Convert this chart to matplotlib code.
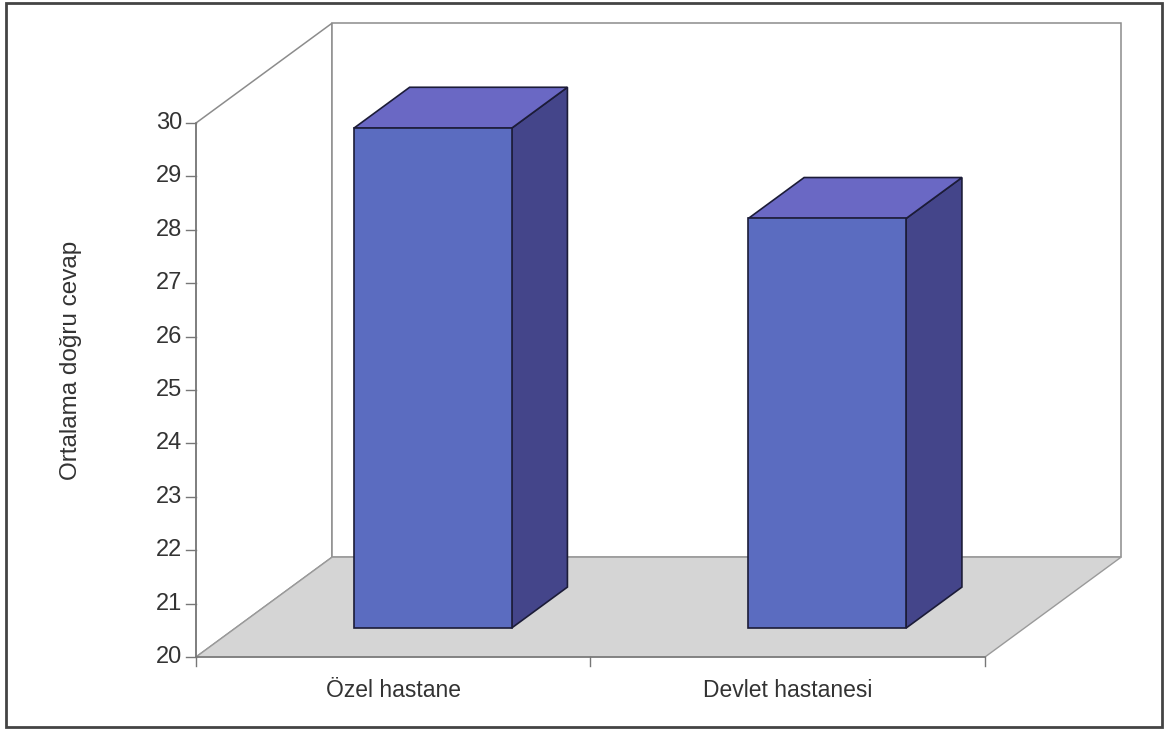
import numpy as np
import matplotlib.pyplot as plt
from matplotlib.patches import Polygon, Rectangle

plt.rcParams['font.family'] = ['Liberation Sans', 'DejaVu Sans']

# data
categories = ["Özel hastane", "Devlet hastanesi"]
values = [29.36, 27.67]
y_ticks = list(range(20, 31))
y_label = "Ortalama doğru cevap"

# 3d look: depth offset of the floor/walls (in x and value units)
DX = 0.345
DY = 1.87
Y0, Y1 = 20, 30
BAR_W = 0.40
D0, D1 = 0.29, 0.70  # bar front / back depth fraction

FRONT = '#5b6cc0'
TOP = '#6a68c4'
SIDE = '#44458a'
EDGE = '#1c1c38'
WALL_EDGE = '#8c8c8c'
TXT = '#333333'


def proj(x, v, d):
    return (x + d * DX, v + d * DY)


fig = plt.figure(figsize=(11.7, 7.31), dpi=100)
ax = fig.add_axes([0, 0, 1, 1])
# pixel layout -> data limits
ax.set_xlim((0 - 196) / 394.5, (1170 - 196) / 394.5)
ax.set_ylim(20 - (731 - 657) / 53.4, 20 + 657 / 53.4)
ax.axis('off')

n = len(categories)

# walls
left_wall = [proj(0, Y0, 0), proj(0, Y0, 1), proj(0, Y1, 1), proj(0, Y1, 0)]
ax.add_patch(Polygon(left_wall, closed=True, facecolor='white',
                     edgecolor=WALL_EDGE, lw=1.1, zorder=1))
back_wall = [proj(0, Y0, 1), proj(n, Y0, 1), proj(n, Y1, 1), proj(0, Y1, 1)]
ax.add_patch(Polygon(back_wall, closed=True, facecolor='white',
                     edgecolor=WALL_EDGE, lw=1.1, zorder=1))

# floor
floor = [proj(0, Y0, 0), proj(n, Y0, 0), proj(n, Y0, 1), proj(0, Y0, 1)]
ax.add_patch(Polygon(floor, closed=True, facecolor='#d5d5d5',
                     edgecolor='#9a9a9a', lw=1.0, zorder=2))

# value axis on the front-left edge
ax.plot([0, 0], [Y0, Y1], color='#777777', lw=1.1, zorder=3)
tick_len = 0.025
for t in y_ticks:
    ax.plot([-tick_len, 0], [t, t], color='#777777', lw=1.0, zorder=3)
    ax.text(-0.035, t, str(t), ha='right', va='center', fontsize=17,
            color=TXT)

# category axis
ax.plot([0, n], [Y0, Y0], color='#777777', lw=1.1, zorder=3)
for k in range(n + 1):
    ax.plot([k, k], [Y0, Y0 - 0.17], color='#777777', lw=1.0, zorder=3)
for k, name in enumerate(categories):
    ax.text(k + 0.5, Y0 - 0.62, name, ha='center', va='center',
            fontsize=16.5, color=TXT)

ax.text(-0.318, 25.55, y_label, rotation=90, ha='center', va='center',
        fontsize=17.5, color=TXT)

# bars
for k, v in enumerate(values):
    xl = k + 0.5 - BAR_W / 2
    xr = k + 0.5 + BAR_W / 2
    front = [proj(xl, Y0, D0), proj(xr, Y0, D0), proj(xr, v, D0), proj(xl, v, D0)]
    side = [proj(xr, Y0, D0), proj(xr, Y0, D1), proj(xr, v, D1), proj(xr, v, D0)]
    top = [proj(xl, v, D0), proj(xr, v, D0), proj(xr, v, D1), proj(xl, v, D1)]
    ax.add_patch(Polygon(side, closed=True, facecolor=SIDE, edgecolor=EDGE,
                         lw=1.2, zorder=4))
    ax.add_patch(Polygon(top, closed=True, facecolor=TOP, edgecolor=EDGE,
                         lw=1.2, zorder=4))
    ax.add_patch(Polygon(front, closed=True, facecolor=FRONT, edgecolor=EDGE,
                         lw=1.2, zorder=5))

# outer frame
fig.patches.append(Rectangle((6 / 1170, 4 / 731), 1156 / 1170, 724 / 731,
                             transform=fig.transFigure, fill=False,
                             edgecolor='#444444', lw=2))

fig.savefig('out.png', dpi=100)
